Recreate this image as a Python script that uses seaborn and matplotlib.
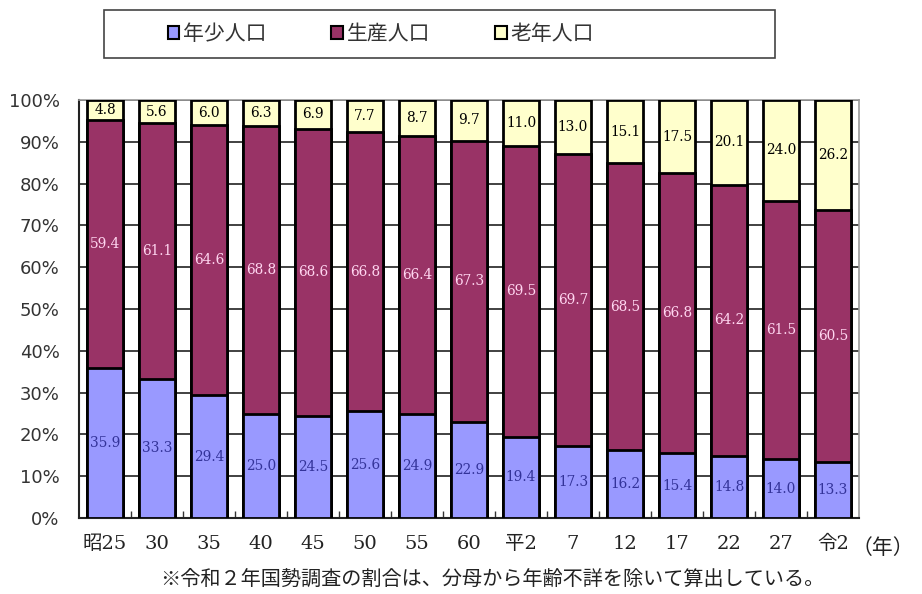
import matplotlib
matplotlib.use("Agg")
from matplotlib import pyplot as plt
from matplotlib.patches import Patch, Rectangle
from matplotlib.ticker import MultipleLocator, FixedLocator
import pandas as pd
import seaborn as sns
import numpy as np

# Data
years = ['昭25', '30', '35', '40', '45', '50', '55', '60', '平2',
         '7', '12', '17', '22', '27', '令2']
young = [35.9, 33.3, 29.4, 25.0, 24.5, 25.6, 24.9, 22.9, 19.4,
         17.3, 16.2, 15.4, 14.8, 14.0, 13.3]
working = [59.4, 61.1, 64.6, 68.8, 68.6, 66.8, 66.4, 67.3, 69.5,
           69.7, 68.5, 66.8, 64.2, 61.5, 60.5]
old = [4.8, 5.6, 6.0, 6.3, 6.9, 7.7, 8.7, 9.7, 11.0,
       13.0, 15.1, 17.5, 20.1, 24.0, 26.2]
series_names = ['年少人口', '生産人口', '老年人口']
colors = ['#9999FF', '#993366', '#FFFFCC']

sns.set_style('white')
plt.rcParams['font.family'] = ['DejaVu Sans', 'Noto Sans CJK JP']

# 100% stacked: shares normalised by row total
df = pd.DataFrame({'year': years, 'young': young, 'working': working, 'old': old})
total = df['young'] + df['working'] + df['old']
df['cum1'] = df['young'] / total * 100
df['cum2'] = (df['young'] + df['working']) / total * 100
df['cum3'] = (df['young'] + df['working'] + df['old']) / total * 100

fig = plt.figure(figsize=(9.22, 5.94), dpi=100)
ax = fig.add_axes([0.0857, 0.1279, 0.846, 0.7037])

# Stack by overlaying cumulative bars, tallest first
for col, color in zip(['cum3', 'cum2', 'cum1'], colors[::-1]):
    sns.barplot(data=df, x='year', y=col, color=color, width=0.69,
                edgecolor='black', linewidth=2, saturation=1, ax=ax, zorder=3)

ax.set_ylim(0, 100)
ax.set_xlim(-0.5, len(years) - 0.5)
ax.yaxis.set_major_locator(MultipleLocator(10))
ax.set_yticklabels([f'{int(v)}%' for v in ax.get_yticks()], fontsize=13,
                   color='#333333')
ax.grid(axis='y', color='#333333', linewidth=1.3, zorder=0)
ax.set_axisbelow(True)
ax.set_xlabel('')
ax.set_ylabel('')
ax.set_xticks(range(len(years)))
ax.set_xticklabels(years, fontsize=14, family=['DejaVu Serif', 'Noto Sans CJK JP'],
                   color='#222222')
ax.tick_params(axis='x', which='major', length=0, pad=12)
ax.tick_params(axis='y', length=0, pad=14)
ax.xaxis.set_minor_locator(FixedLocator(np.arange(0.5, len(years) - 1, 1)))
ax.tick_params(axis='x', which='minor', direction='in', length=5, width=1,
               color='#333333', bottom=True)

for side in ['left', 'bottom']:
    ax.spines[side].set_color('#222222')
    ax.spines[side].set_linewidth(1.5)
for side in ['right', 'top']:
    ax.spines[side].set_color('#999999')
    ax.spines[side].set_linewidth(1.2)

# Value labels
lab_kw = dict(ha='center', va='center', fontsize=11, zorder=5,
              family='DejaVu Serif', fontstretch='condensed')
for i in range(len(years)):
    y1, y2 = df['cum1'][i], df['cum2'][i]
    ax.text(i, y1 / 2, f'{young[i]:.1f}', color='#333399', **lab_kw)
    ax.text(i, (y1 + y2) / 2, f'{working[i]:.1f}', color='#FFD6F0', **lab_kw)
    ax.text(i, (y2 + 100) / 2, f'{old[i]:.1f}', color='black', **lab_kw)

# Legend box (wider than its entries, like the original)
fig.patches.append(Rectangle((104 / 922, 1 - 58 / 594), 671 / 922, 48 / 594,
                             transform=fig.transFigure, facecolor='white',
                             edgecolor='#444444', linewidth=1.2))
handles = [Patch(facecolor=c, edgecolor='black', linewidth=1.5) for c in colors]
leg = fig.legend(handles, series_names, loc='center', ncol=3,
                 bbox_to_anchor=(381 / 922, 1 - 34 / 594), frameon=False,
                 fontsize=15, handlelength=0.55, handleheight=0.55,
                 handletextpad=0.2, columnspacing=3.1, borderaxespad=0)
for t in leg.get_texts():
    t.set_family(['Noto Sans CJK JP'])
    t.set_color('#333333')

fig.text(0.957, 0.077, '（年）', fontsize=15, ha='center', va='center',
         family=['Noto Sans CJK JP'], color='#222222')
fig.text(0.534, 0.024, '※令和２年国勢調査の割合は、分母から年齢不詳を除いて算出している。',
         fontsize=14.5, ha='center', va='center', family=['Noto Sans CJK JP'],
         color='#222222')

plt.savefig('out.png', dpi=100)
